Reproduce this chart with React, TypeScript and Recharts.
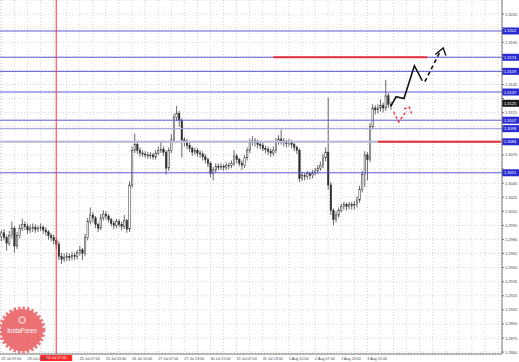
import React from "react";
import { ComposedChart, Bar, Line, XAxis, YAxis, CartesianGrid, ReferenceLine } from "recharts";

// hourly candles (one slot ~ 1.6 h)
const opens = [
  1.2983, 1.2987, 1.2982, 1.2976, 1.2984, 1.2992, 1.2973, 1.2984, 1.2992, 1.2996,
  1.2994, 1.2990, 1.2992, 1.2993, 1.2991, 1.2992, 1.2993, 1.2990, 1.2988, 1.2984,
  1.2982, 1.2979, 1.2975, 1.2962, 1.2959, 1.2961, 1.2962, 1.2961, 1.2963, 1.2962,
  1.2966, 1.2969, 1.2965, 1.2982, 1.2999, 1.3006, 1.3003, 1.2996, 1.2992, 1.3003,
  1.3007, 1.3005, 1.3001, 1.2997, 1.2995, 1.2999, 1.2996, 1.2994, 1.3000, 1.2991,
  1.3038, 1.3075, 1.3081, 1.3075, 1.3072, 1.3071, 1.3070, 1.3069, 1.3070, 1.3068,
  1.3072, 1.3075, 1.3076, 1.3073, 1.3056, 1.3075, 1.3086, 1.3110, 1.3114, 1.3107,
  1.3086, 1.3084, 1.3080, 1.3077, 1.3073, 1.3075, 1.3072, 1.3071, 1.3068, 1.3065,
  1.3061, 1.3050, 1.3054, 1.3058, 1.3057, 1.3058, 1.3057, 1.3059, 1.3059, 1.3061,
  1.3069, 1.3065, 1.3061, 1.3059, 1.3067, 1.3075, 1.3083, 1.3085, 1.3083, 1.3081,
  1.3080, 1.3077, 1.3076, 1.3074, 1.3072, 1.3075, 1.3084, 1.3087, 1.3085, 1.3083,
  1.3082, 1.3084, 1.3081, 1.3078, 1.3075, 1.3045, 1.3048, 1.3047, 1.3050, 1.3048,
  1.3051, 1.3053, 1.3056, 1.3059, 1.3067, 1.3073, 1.3038, 1.3011, 1.3001, 1.3006,
  1.3011, 1.3015, 1.3017, 1.3015, 1.3017, 1.3016, 1.3017, 1.3022, 1.3033, 1.3049,
  1.3070, 1.3065, 1.3100, 1.3120, 1.3118, 1.3120, 1.3123, 1.3120, 1.3133, 1.3124,
];
const highs = [
  1.2990, 1.2991, 1.2985, 1.2989, 1.2999, 1.2994, 1.2988, 1.2996, 1.3002, 1.2999,
  1.2997, 1.2996, 1.2997, 1.2996, 1.2995, 1.2997, 1.2995, 1.2993, 1.2990, 1.2987,
  1.2985, 1.2982, 1.2978, 1.2966, 1.2965, 1.2966, 1.2965, 1.2967, 1.2966, 1.2969,
  1.2973, 1.2971, 1.2986, 1.3003, 1.3014, 1.3009, 1.3005, 1.2998, 1.3007, 1.3011,
  1.3010, 1.3007, 1.3003, 1.3000, 1.3002, 1.3002, 1.2999, 1.3006, 1.3002, 1.3042,
  1.3079, 1.3093, 1.3084, 1.3078, 1.3075, 1.3074, 1.3073, 1.3073, 1.3072, 1.3075,
  1.3079, 1.3085, 1.3079, 1.3075, 1.3078, 1.3092, 1.3114, 1.3122, 1.3117, 1.3109,
  1.3089, 1.3087, 1.3083, 1.3079, 1.3078, 1.3077, 1.3075, 1.3074, 1.3071, 1.3067,
  1.3063, 1.3057, 1.3061, 1.3061, 1.3061, 1.3060, 1.3062, 1.3062, 1.3064, 1.3075,
  1.3071, 1.3067, 1.3064, 1.3070, 1.3078, 1.3087, 1.3090, 1.3088, 1.3086, 1.3084,
  1.3083, 1.3080, 1.3079, 1.3077, 1.3079, 1.3088, 1.3091, 1.3097, 1.3088, 1.3086,
  1.3087, 1.3086, 1.3083, 1.3080, 1.3077, 1.3052, 1.3051, 1.3053, 1.3052, 1.3054,
  1.3056, 1.3059, 1.3063, 1.3071, 1.3078, 1.3131, 1.3041, 1.3013, 1.3010, 1.3014,
  1.3018, 1.3020, 1.3019, 1.3020, 1.3020, 1.3021, 1.3026, 1.3037, 1.3053, 1.3074,
  1.3073, 1.3104, 1.3124, 1.3123, 1.3124, 1.3129, 1.3126, 1.3150, 1.3136, 1.3127,
];
const lows = [
  1.2978, 1.2979, 1.2968, 1.2973, 1.2981, 1.2966, 1.2970, 1.2981, 1.2989, 1.2990,
  1.2986, 1.2987, 1.2988, 1.2987, 1.2988, 1.2989, 1.2986, 1.2984, 1.2980, 1.2978,
  1.2975, 1.2970, 1.2958, 1.2954, 1.2956, 1.2957, 1.2957, 1.2958, 1.2958, 1.2959,
  1.2963, 1.2958, 1.2962, 1.2979, 1.2996, 1.2998, 1.2992, 1.2988, 1.2990, 1.3000,
  1.3001, 1.2998, 1.2994, 1.2991, 1.2992, 1.2993, 1.2990, 1.2991, 1.2987, 1.2988,
  1.3035, 1.3072, 1.3071, 1.3068, 1.3068, 1.3067, 1.3066, 1.3066, 1.3065, 1.3065,
  1.3070, 1.3072, 1.3069, 1.3049, 1.3053, 1.3072, 1.3083, 1.3106, 1.3100, 1.3067,
  1.3079, 1.3076, 1.3073, 1.3069, 1.3070, 1.3068, 1.3067, 1.3064, 1.3061, 1.3057,
  1.3046, 1.3043, 1.3051, 1.3054, 1.3054, 1.3053, 1.3054, 1.3055, 1.3056, 1.3058,
  1.3061, 1.3058, 1.3054, 1.3056, 1.3064, 1.3072, 1.3080, 1.3079, 1.3077, 1.3076,
  1.3074, 1.3072, 1.3070, 1.3068, 1.3069, 1.3072, 1.3081, 1.3081, 1.3079, 1.3078,
  1.3079, 1.3077, 1.3074, 1.3071, 1.3041, 1.3042, 1.3043, 1.3044, 1.3044, 1.3045,
  1.3048, 1.3050, 1.3053, 1.3056, 1.3063, 1.3033, 1.3006, 1.2995, 1.2998, 1.3003,
  1.3009, 1.3012, 1.3011, 1.3012, 1.3012, 1.3012, 1.3014, 1.3019, 1.3030, 1.3036,
  1.3043, 1.3062, 1.3097, 1.3113, 1.3114, 1.3116, 1.3115, 1.3117, 1.3120, 1.3118,
];
const closes = [
  1.2987, 1.2982, 1.2976, 1.2984, 1.2992, 1.2973, 1.2984, 1.2992, 1.2996, 1.2994,
  1.2990, 1.2992, 1.2993, 1.2991, 1.2992, 1.2993, 1.2990, 1.2988, 1.2984, 1.2982,
  1.2979, 1.2975, 1.2962, 1.2959, 1.2961, 1.2962, 1.2961, 1.2963, 1.2962, 1.2966,
  1.2969, 1.2965, 1.2982, 1.2999, 1.3006, 1.3003, 1.2996, 1.2992, 1.3003, 1.3007,
  1.3005, 1.3001, 1.2997, 1.2995, 1.2999, 1.2996, 1.2994, 1.3000, 1.2991, 1.3038,
  1.3075, 1.3081, 1.3075, 1.3072, 1.3071, 1.3070, 1.3069, 1.3070, 1.3068, 1.3072,
  1.3075, 1.3076, 1.3073, 1.3056, 1.3075, 1.3086, 1.3110, 1.3114, 1.3107, 1.3086,
  1.3084, 1.3080, 1.3077, 1.3073, 1.3075, 1.3072, 1.3071, 1.3068, 1.3065, 1.3061,
  1.3050, 1.3054, 1.3058, 1.3057, 1.3058, 1.3057, 1.3059, 1.3059, 1.3061, 1.3069,
  1.3065, 1.3061, 1.3059, 1.3067, 1.3075, 1.3083, 1.3085, 1.3083, 1.3081, 1.3080,
  1.3077, 1.3076, 1.3074, 1.3072, 1.3075, 1.3084, 1.3087, 1.3085, 1.3083, 1.3082,
  1.3084, 1.3081, 1.3078, 1.3075, 1.3045, 1.3048, 1.3047, 1.3050, 1.3048, 1.3051,
  1.3053, 1.3056, 1.3059, 1.3067, 1.3073, 1.3038, 1.3011, 1.3001, 1.3006, 1.3011,
  1.3015, 1.3017, 1.3015, 1.3017, 1.3016, 1.3017, 1.3022, 1.3033, 1.3049, 1.3070,
  1.3065, 1.3100, 1.3120, 1.3118, 1.3120, 1.3123, 1.3120, 1.3133, 1.3124, 1.3122,
];

// slots to the right of the last candle are left for the drawn forecast
const SLOTS = 192;

const timeTickIdx = [0, 10, 30, 40, 50, 60, 70, 80, 90, 100, 110, 120, 130, 140];
const timeTickText = [
  "23 Jul 07:00", "23 Jul 23:00", "25 Jul 07:00", "25 Jul 23:00", "26 Jul 15:00",
  "27 Jul 07:00", "27 Jul 23:00", "30 Jul 15:00", "31 Jul 07:00", "31 Jul 23:00",
  "1 Aug 15:00", "2 Aug 07:00", "2 Aug 23:00", "3 Aug 15:00",
];
const markerIdx = 21;
const markerText = "24 Jul 17:00";

const priceTicks = [
  1.2860, 1.2875, 1.2890, 1.2905, 1.2920, 1.2935, 1.2950, 1.2965, 1.2980, 1.2995,
  1.3010, 1.3025, 1.3040, 1.3055, 1.3070, 1.3085, 1.3100, 1.3115, 1.3130, 1.3145,
  1.3160, 1.3175, 1.3190, 1.3205, 1.3220,
];

const levelPrices = [1.3202, 1.3174, 1.3159, 1.3137, 1.3107, 1.3098, 1.3084, 1.3051];
const lastPrice = 1.3125;

// hand-drawn forecast paths (slot index, price)
const solidIdx = [149, 151, 154, 158, 161];
const solidPrice = [1.3122, 1.3132, 1.3130, 1.3165, 1.3149];
const dashIdx = [162, 168];
const dashPrice = [1.3148, 1.3181];
const dashHeadIdx = [166, 169, 170];
const dashHeadPrice = [1.3177, 1.3184, 1.3176];
const redVIdx = [150, 152, 155];
const redVPrice = [1.3116, 1.3105, 1.3117];
const redHeadIdx = [154, 156, 157];
const redHeadPrice = [1.3119, 1.3121, 1.3114];
const redTopIdx = [104, 163];
const redTopPrice = [1.3174, 1.3174];
const redLowIdx = [144, 191];
const redLowPrice = [1.3084, 1.3084];

const toMap = (idx: number[], vals: number[]) => {
  const m: Record<number, number> = {};
  idx.forEach((k, j) => (m[k] = vals[j]));
  return m;
};
const solidMap = toMap(solidIdx, solidPrice);
const dashMap = toMap(dashIdx, dashPrice);
const dashHeadMap = toMap(dashHeadIdx, dashHeadPrice);
const redVMap = toMap(redVIdx, redVPrice);
const redHeadMap = toMap(redHeadIdx, redHeadPrice);
const redTopMap = toMap(redTopIdx, redTopPrice);
const redLowMap = toMap(redLowIdx, redLowPrice);

const rows = Array.from({ length: SLOTS }, (_, i) => ({
  idx: i,
  open: opens[i],
  high: highs[i],
  low: lows[i],
  close: closes[i],
  range: i < closes.length ? [lows[i], highs[i]] : null,
  solid: solidMap[i],
  dash: dashMap[i],
  dashHead: dashHeadMap[i],
  redV: redVMap[i],
  redHead: redHeadMap[i],
  redTop: redTopMap[i],
  redLow: redLowMap[i],
}));

const gridTicks = rows.filter(r => r.idx % 5 === 0).map(r => r.idx);

const FONT = "Liberation Sans, Arial, sans-serif";

function Candle(props: any) {
  const { x, y, width, height, payload } = props;
  if (!payload || payload.open == null || height == null) return null;
  const { open, close, high, low } = payload;
  const top = Math.min(y, y + height);
  const h = Math.abs(height);
  const k = h / (high - low || 1);
  const cx = x + width / 2;
  const bTop = top + (high - Math.max(open, close)) * k;
  const bBot = top + (high - Math.min(open, close)) * k;
  const bw = Math.max(1.3, width * 0.75);
  const up = close >= open;
  return (
    <g>
      <line x1={cx} x2={cx} y1={top} y2={top + h} stroke="#444" strokeWidth={0.8} />
      <rect x={cx - bw / 2} y={bTop} width={bw} height={Math.max(0.8, bBot - bTop)}
            fill={up ? "#fff" : "#2e2e2e"} stroke="#2e2e2e" strokeWidth={0.5} />
    </g>
  );
}

function TimeTick(props: any) {
  const { x, y, payload } = props;
  const j = timeTickIdx.indexOf(payload.value);
  if (j < 0) return null;
  return (
    <text x={x} y={y + 4} fontSize={3.7} fill="#444" fontFamily={FONT} textAnchor="start">
      {timeTickText[j]}
    </text>
  );
}

// the coloured price tags sit on top of the scale, so a tick label under one is not drawn
const taggedPrices = [...levelPrices, lastPrice];

function PriceTick(props: any) {
  const { x, y, payload } = props;
  const v = Number(payload.value);
  if (taggedPrices.some(p => Math.abs(p - v) < 0.0007)) return null;
  return (
    <text x={x} y={y + 1.5} fontSize={4} fill="#444" fontFamily={FONT} textAnchor="start">
      {v.toFixed(4)}
    </text>
  );
}

function Tag(props: any) {
  const { viewBox, text, fill } = props;
  if (!viewBox) return null;
  const x = viewBox.x + viewBox.width;
  const y = viewBox.y;
  return (
    <g>
      <rect x={x} y={y - 3.5} width={17} height={7} fill={fill} />
      <text x={x + 2} y={y + 1.5} fontSize={4} fill="#fff" fontFamily={FONT}>{text}</text>
    </g>
  );
}

function TimeTag(props: any) {
  const { viewBox, text } = props;
  if (!viewBox) return null;
  const x = viewBox.x;
  const y = viewBox.y + viewBox.height;
  return (
    <g>
      <rect x={x - 16} y={y + 1} width={32} height={6} fill="#ff2a2a" />
      <text x={x} y={y + 5.4} fontSize={3.7} fill="#fff" fontFamily={FONT} textAnchor="middle">{text}</text>
    </g>
  );
}

const levelStroke = ["#5c5cd8", "#5c5cd8", "#5c5cd8", "#5c5cd8", "#5c5cd8", "#a8aadf", "#b4b8d4", "#5c5cd8"];
const levelWidth = [1, 1, 1, 1, 1, 1.2, 2, 1];

function Badge() {
  return (
    <svg width={50} height={50} style={{ position: "absolute", left: -2, top: 306 }}>
      <circle cx={24} cy={24} r={21} fill="#e9585d" fillOpacity={0.85} />
      <circle cx={24} cy={24} r={22} fill="none" stroke="#e9585d" strokeOpacity={0.8}
              strokeWidth={3} strokeDasharray="2.5 2" />
      <circle cx={24} cy={14} r={3.2} fill="none" stroke="#fff" strokeWidth={1} />
      <text x={24} y={27} fontSize={6.3} fill="#fff" fontFamily={FONT} textAnchor="middle">InstaForex</text>
    </svg>
  );
}

export default function App() {
  return (
    <div style={{ position: "absolute", left: 0, top: 0, width: 519, height: 362, background: "#fff" }}>
      <style>{"body{margin:0}"}</style>
      <ComposedChart width={519} height={362} data={rows}
                     margin={{ top: 0, right: 0, bottom: 0, left: 0 }}
                     barCategoryGap="15%">
        <CartesianGrid stroke="#d4d4d4" strokeDasharray="1 2" />
        <XAxis dataKey="idx" type="category" ticks={gridTicks} interval={0} height={8}
               tick={<TimeTick />} tickLine={false} tickSize={2} tickMargin={0}
               axisLine={{ stroke: "#777" }} />
        <YAxis orientation="right" type="number" width={17} domain={[1.2858, 1.3235]}
               allowDataOverflow ticks={priceTicks} interval={0} tick={<PriceTick />}
               tickSize={2} tickMargin={1} tickLine={{ stroke: "#777" }}
               axisLine={{ stroke: "#777" }} />

        {levelPrices.map((p, i) => (
          <ReferenceLine key={p} y={p} stroke={levelStroke[i]} strokeWidth={levelWidth[i]}
                         label={<Tag text={p.toFixed(4)} fill="#2b2bd2" />} />
        ))}
        <ReferenceLine y={lastPrice} stroke="none" label={<Tag text={lastPrice.toFixed(4)} fill="#1b1b1b" />} />
        <ReferenceLine x={markerIdx} stroke="#ff3333" strokeWidth={1}
                       label={<TimeTag text={markerText} />} />

        <Bar dataKey="range" shape={<Candle />} isAnimationActive={false} />

        <Line dataKey="redTop" stroke="#e8313a" strokeWidth={2} dot={false} activeDot={false}
              connectNulls isAnimationActive={false} />
        <Line dataKey="redLow" stroke="#e8313a" strokeWidth={2} dot={false} activeDot={false}
              connectNulls isAnimationActive={false} />
        <Line dataKey="solid" stroke="#111" strokeWidth={1.6} dot={false} activeDot={false}
              connectNulls isAnimationActive={false} />
        <Line dataKey="dash" stroke="#111" strokeWidth={1.6} strokeDasharray="4 3" dot={false}
              activeDot={false} connectNulls isAnimationActive={false} />
        <Line dataKey="dashHead" stroke="#111" strokeWidth={1.4} dot={false} activeDot={false}
              connectNulls isAnimationActive={false} />
        <Line dataKey="redV" stroke="#f03c3c" strokeWidth={1.4} strokeDasharray="3 2" dot={false}
              activeDot={false} connectNulls isAnimationActive={false} />
        <Line dataKey="redHead" stroke="#f03c3c" strokeWidth={1.4} strokeDasharray="3 2" dot={false}
              activeDot={false} connectNulls isAnimationActive={false} />
      </ComposedChart>
      <Badge />
    </div>
  );
}
